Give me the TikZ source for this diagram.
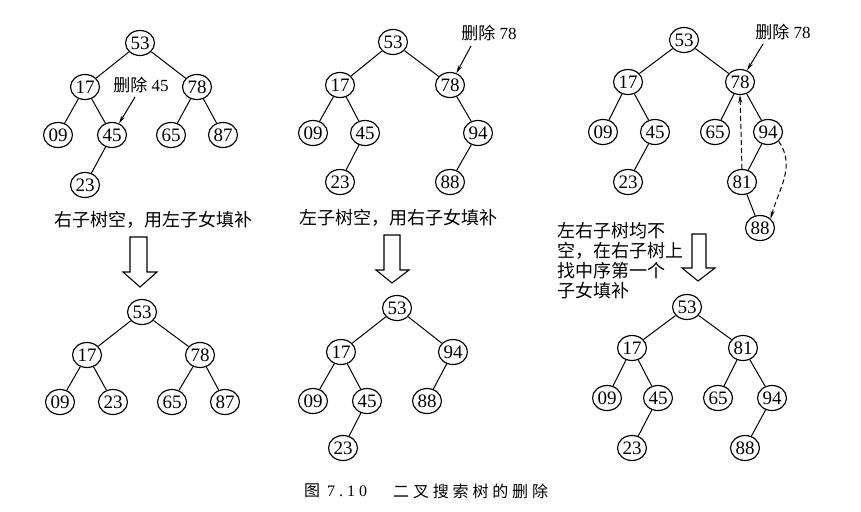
\documentclass[tikz,border=0pt]{standalone}
\usepackage{fontspec}
\setmainfont{Liberation Serif}
\newfontfamily\cjk{Noto Sans CJK SC}
\newfontfamily\cjkcap[LetterSpace=24]{Noto Sans CJK SC}
\newfontfamily\capnum[LetterSpace=25]{Liberation Serif}
\usetikzlibrary{shapes.geometric,arrows.meta}
\begin{document}
\begin{tikzpicture}[x=1pt,y=-1pt,
  nd/.style={ellipse,draw,line width=1.15pt,minimum width=29pt,minimum height=25pt,inner sep=0pt,font=\fontsize{19}{19}\selectfont},
  ed/.style={line width=1pt},
  lbl/.style={font=\fontsize{17}{17}\selectfont,inner sep=1pt},
  note/.style={font=\cjk\fontsize{18}{20}\selectfont,inner sep=0pt},
  ptr/.style={line width=1pt,-{Stealth[length=8pt,width=4pt]}},
  dsh/.style={line width=1pt,dash pattern=on 5pt off 3pt,-{Stealth[length=8pt,width=4pt]}},
  hollow/.style={line width=1.1pt,line join=miter}]
\useasboundingbox[fill=white] (0,0) rectangle (861,511);

% ---------- tree A (top left)
\node[nd] (a53) at (140,43) {53};
\node[nd] (a17) at (85,87) {17};
\node[nd] (a78) at (197,87) {78};
\node[nd] (a09) at (58,135) {09};
\node[nd] (a45) at (112,135) {45};
\node[nd] (a65) at (171,135) {65};
\node[nd] (a87) at (223,135) {87};
\node[nd] (a23) at (85,185) {23};
\draw[ed] (a53)--(a17) (a53)--(a78) (a17)--(a09) (a17)--(a45) (a45)--(a23) (a78)--(a65) (a78)--(a87);
\node[lbl] (la) at (141,85) {{\cjk 删除} 45};
\coordinate (pa) at (135,97);
\draw[ptr] (pa) -- (a45);

% ---------- tree B (top middle)
\node[nd] (b53) at (393,42) {53};
\node[nd] (b17) at (340,85) {17};
\node[nd] (b78) at (450,85) {78};
\node[nd] (b09) at (313,133) {09};
\node[nd] (b45) at (365,133) {45};
\node[nd] (b94) at (478,133) {94};
\node[nd] (b23) at (340,182) {23};
\node[nd] (b88) at (450,182) {88};
\draw[ed] (b53)--(b17) (b53)--(b78) (b17)--(b09) (b17)--(b45) (b45)--(b23) (b78)--(b94) (b94)--(b88);
\node[lbl] (lb) at (489,33) {{\cjk 删除} 78};
\coordinate (pb) at (471,46);
\draw[ptr] (pb) -- (b78);

% ---------- tree C (top right)
\node[nd] (c53) at (684,40) {53};
\node[nd] (c17) at (628,82) {17};
\node[nd] (c78) at (740,82) {78};
\node[nd] (c09) at (603,132) {09};
\node[nd] (c45) at (655,132) {45};
\node[nd] (c65) at (715,132) {65};
\node[nd] (c94) at (768,132) {94};
\node[nd] (c23) at (628,182) {23};
\node[nd] (c81) at (742,182) {81};
\node[nd] (c88) at (760,228) {88};
\draw[ed] (c53)--(c17) (c53)--(c78) (c17)--(c09) (c17)--(c45) (c45)--(c23) (c78)--(c65) (c78)--(c94) (c94)--(c81) (c81)--(c88);
\node[lbl] (lc) at (783,32) {{\cjk 删除} 78};
\coordinate (pc) at (763,44);
\draw[ptr] (pc) -- (c78);
\draw[dsh] (c81.north) -- (c78.south);
\draw[dsh] (c94.south east) to[out=-55,in=75] (c88.north east);

% ---------- notes and hollow arrows
\node[note] (na) at (153,220) {右子树空，用左子女填补};
\node[note] (nb) at (398,218) {左子树空，用右子女填补};
\node[note,align=left,anchor=north west] (nc) at (557,222) {左右子树均不\\空，在右子树上\\找中序第一个\\子女填补};

\draw[hollow] (130,237) -- (130,272) -- (123,272) -- (140,287) -- (157,272) -- (147,272) -- (147,237) -- cycle;
\draw[hollow] (384,235) -- (384,270) -- (376,270) -- (392,283) -- (409,270) -- (400,270) -- (400,235) -- cycle;
\draw[hollow] (692,234) -- (692,268) -- (682,268) -- (698,281) -- (715,268) -- (706,268) -- (706,234) -- cycle;

% ---------- tree D (bottom left)
\node[nd] (d53) at (142,312) {53};
\node[nd] (d17) at (87,355) {17};
\node[nd] (d78) at (200,355) {78};
\node[nd] (d09) at (60,402) {09};
\node[nd] (d23) at (113,402) {23};
\node[nd] (d65) at (172,402) {65};
\node[nd] (d87) at (225,402) {87};
\draw[ed] (d53)--(d17) (d53)--(d78) (d17)--(d09) (d17)--(d23) (d78)--(d65) (d78)--(d87);

% ---------- tree E (bottom middle)
\node[nd] (e53) at (397,308) {53};
\node[nd] (e17) at (341,352) {17};
\node[nd] (e94) at (453,352) {94};
\node[nd] (e09) at (313,401) {09};
\node[nd] (e45) at (367,401) {45};
\node[nd] (e88) at (427,401) {88};
\node[nd] (e23) at (343,448) {23};
\draw[ed] (e53)--(e17) (e53)--(e94) (e17)--(e09) (e17)--(e45) (e45)--(e23) (e94)--(e88);

% ---------- tree F (bottom right)
\node[nd] (f53) at (687,307) {53};
\node[nd] (f17) at (632,348) {17};
\node[nd] (f81) at (743,348) {81};
\node[nd] (f09) at (607,398) {09};
\node[nd] (f45) at (658,398) {45};
\node[nd] (f65) at (718,398) {65};
\node[nd] (f94) at (772,398) {94};
\node[nd] (f23) at (632,448) {23};
\node[nd] (f88) at (745,448) {88};
\draw[ed] (f53)--(f17) (f53)--(f81) (f17)--(f09) (f17)--(f45) (f45)--(f23) (f81)--(f65) (f81)--(f94) (f94)--(f88);

% ---------- caption
\node[anchor=west,inner sep=0pt,font=\fontsize{16}{16}\selectfont] (cap1) at (304,491) {{\cjk 图}\hspace{7pt}{\capnum 7.10}};
\node[anchor=west,inner sep=0pt,font=\fontsize{16}{16}\selectfont] (cap2) at (393,491) {\cjkcap 二叉搜索树的删除};
\end{tikzpicture}
\end{document}
